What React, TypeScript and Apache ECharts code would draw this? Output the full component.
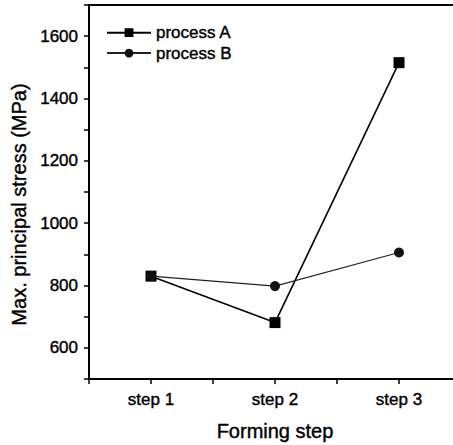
import React, { useEffect, useRef } from "react";
import * as echarts from "echarts";

const categories = ["step 1", "step 2", "step 3"];
const processA = [830, 681, 1515];
const processB = [830, 798, 906];
const seriesNames = ["process A", "process B"];
const yTitle = "Max. principal stress (MPa)";
const xTitle = "Forming step";

const FONT = "'Liberation Sans', Arial, sans-serif";
const heavy = { textBorderColor: "#000", textBorderWidth: 0.4 };

export default function App() {
  const ref = useRef<HTMLDivElement>(null);
  useEffect(() => {
    if (!ref.current) return;
    const chart = echarts.init(ref.current, undefined, { renderer: "svg" });
    const toPoints = (vals: number[]) => vals.map((v, i) => [i + 1, v]);
    chart.setOption({
      animation: false,
      backgroundColor: "#fff",
      textStyle: { fontFamily: FONT, color: "#000" },
      grid: {
        left: 89,
        top: 5,
        width: 372,
        height: 374,
        containLabel: false,
        outerBoundsMode: "none",
        show: true,
        borderColor: "#000",
        borderWidth: 2,
        backgroundColor: "transparent",
      },
      legend: {
        left: 106,
        top: 24,
        padding: 0,
        orient: "vertical",
        itemWidth: 44,
        itemHeight: 11,
        itemGap: 3,
        data: seriesNames,
        textStyle: { fontFamily: FONT, fontSize: 17, color: "#000", ...heavy },
      },
      xAxis: {
        type: "value",
        min: 0.5,
        max: 3.5,
        interval: 0.5,
        name: xTitle,
        nameLocation: "middle",
        nameGap: 42,
        nameTextStyle: { fontFamily: FONT, fontSize: 20, color: "#000", ...heavy },
        axisLine: { show: true, lineStyle: { color: "#000", width: 2 } },
        axisTick: { show: true, inside: false, length: 5, lineStyle: { color: "#000", width: 1.5 } },
        axisLabel: {
          margin: 12,
          fontFamily: FONT,
          fontSize: 17,
          color: "#000",
          ...heavy,
          formatter: (v: number) =>
            Number.isInteger(v) && v >= 1 && v <= categories.length ? categories[v - 1] : "",
        },
        splitLine: { show: false },
      },
      yAxis: {
        type: "value",
        min: 500,
        max: 1700,
        interval: 100,
        axisLine: { show: true, lineStyle: { color: "#000", width: 2 } },
        axisTick: { show: true, inside: false, length: 5, lineStyle: { color: "#000", width: 1.5 } },
        axisLabel: {
          margin: 11,
          fontFamily: FONT,
          fontSize: 17,
          color: "#000",
          ...heavy,
          formatter: (v: number) => (v % 200 === 0 ? String(v) : ""),
        },
        splitLine: { show: false },
      },
      graphic: [
        {
          type: "text",
          x: 18.5,
          y: 204.5,
          rotation: Math.PI / 2,
          style: {
            text: yTitle,
            fontFamily: FONT,
            fontSize: 20,
            fill: "#000",
            stroke: "#000",
            lineWidth: 0.4,
            align: "center",
            verticalAlign: "middle",
          },
        },
      ],
      series: [
        {
          name: seriesNames[0],
          type: "line",
          data: toPoints(processA),
          symbol: "rect",
          symbolSize: 11,
          itemStyle: { color: "#000" },
          lineStyle: { color: "#000", width: 1.6 },
          z: 2,
        },
        {
          name: seriesNames[1],
          type: "line",
          data: toPoints(processB),
          symbol: "circle",
          symbolSize: 10,
          itemStyle: { color: "#111" },
          lineStyle: { color: "#222", width: 1.1 },
          z: 3,
        },
      ],
    });
    return () => chart.dispose();
  }, []);
  return <div ref={ref} style={{ width: 453, height: 445, position: "absolute", left: 0, top: 0 }} />;
}
